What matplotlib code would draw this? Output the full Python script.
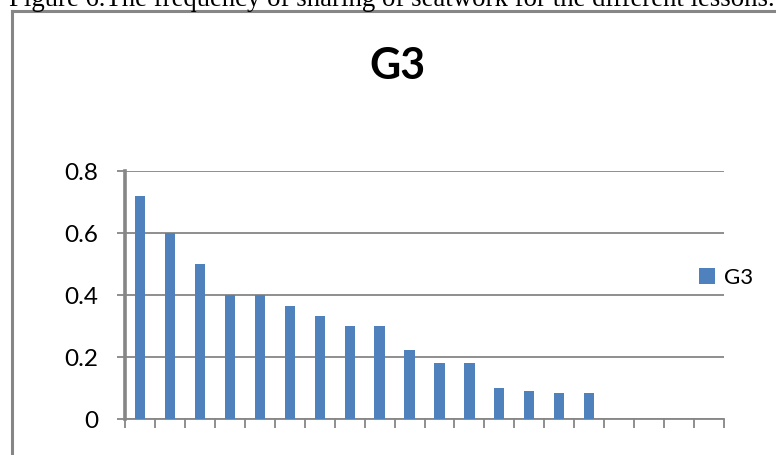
import matplotlib
matplotlib.use("Agg")
import matplotlib.pyplot as plt
from matplotlib.lines import Line2D
import numpy as np

# Share of lessons with seatwork sharing, group G3 (20 lesson slots, last 4 empty)
n_lessons = 20
g3_values = [0.72, 0.60, 0.50, 0.40, 0.40, 0.364, 0.333, 0.30, 0.30,
             0.222, 0.182, 0.182, 0.10, 0.091, 0.083, 0.083]
y_ticks = [0, 0.2, 0.4, 0.6, 0.8]
y_tick_labels = ["0", "0.2", "0.4", "0.6", "0.8"]
series_name = "G3"
chart_title = "G3"
caption = "Figure 6.The frequency of sharing of seatwork for the different lessons."

W, H = 776, 455
fig = plt.figure(figsize=(W / 100, H / 100), dpi=100)
fig.patch.set_facecolor("white")

grey = "#868686"
bar_blue = "#4F81BD"
sans = ["Lato", "DejaVu Sans"]

# plot area in pixel coordinates
x0, x1 = 125, 724
y_top, y_bot = 171, 419
ax = fig.add_axes([x0 / W, 1 - y_bot / H, (x1 - x0) / W, (y_bot - y_top) / H])

vals = np.full(n_lessons, np.nan)
vals[:len(g3_values)] = g3_values
pos = np.arange(n_lessons)
ax.bar(pos, vals, width=0.34, color=bar_blue, zorder=3, label=series_name)

ax.set_xlim(-0.5, n_lessons - 0.5)
ax.set_ylim(0, 0.8)
ax.set_yticks(y_ticks)
ax.set_yticklabels(y_tick_labels, family=sans, fontsize=17.5)
ax.set_xticks(np.arange(-0.5, n_lessons, 1.0))
ax.set_xticklabels([])

ax.yaxis.grid(True, color=grey, linewidth=1.3, zorder=0)
ax.set_axisbelow(True)
for side in ("top", "right"):
    ax.spines[side].set_visible(False)
ax.spines["left"].set_color(grey)
ax.spines["left"].set_linewidth(2.6)
ax.spines["left"].set_bounds(0, 0.8)
ax.spines["bottom"].set_color(grey)
ax.spines["bottom"].set_linewidth(1.3)
ax.tick_params(axis="y", length=6, width=1.3, color=grey, pad=13, labelcolor="black")
ax.tick_params(axis="x", length=6.5, width=1.3, color=grey)

leg = fig.legend(loc="center left", bbox_to_anchor=(699 / W, 1 - 278 / H),
                 frameon=False, prop={"family": sans, "size": 16},
                 handlelength=0.72, handleheight=0.72, handletextpad=0.4,
                 borderpad=0, borderaxespad=0)

fig.text(397 / W, 1 - 79 / H, chart_title, ha="center", va="baseline",
         family=sans, fontweight="bold", fontsize=31)

# chart frame (top and left edges visible)
fig.add_artist(Line2D([12 / W, 1.0], [1 - 11 / H, 1 - 11 / H], color=grey, linewidth=2.2,
                      transform=fig.transFigure))
fig.add_artist(Line2D([12 / W, 12 / W], [1 - 11 / H, 0.0], color=grey, linewidth=2.2,
                      transform=fig.transFigure))

# caption above the chart, fitted to its line width
cap = fig.text(9 / W, 1 - 6 / H, caption, ha="left", va="baseline",
               family=["Liberation Serif", "DejaVu Serif"], fontsize=17)
fig.canvas.draw()
bb = cap.get_window_extent()
cap.set_fontsize(17 * (773 - 9) / bb.width)

fig.savefig("out.png", dpi=100, facecolor="white")
